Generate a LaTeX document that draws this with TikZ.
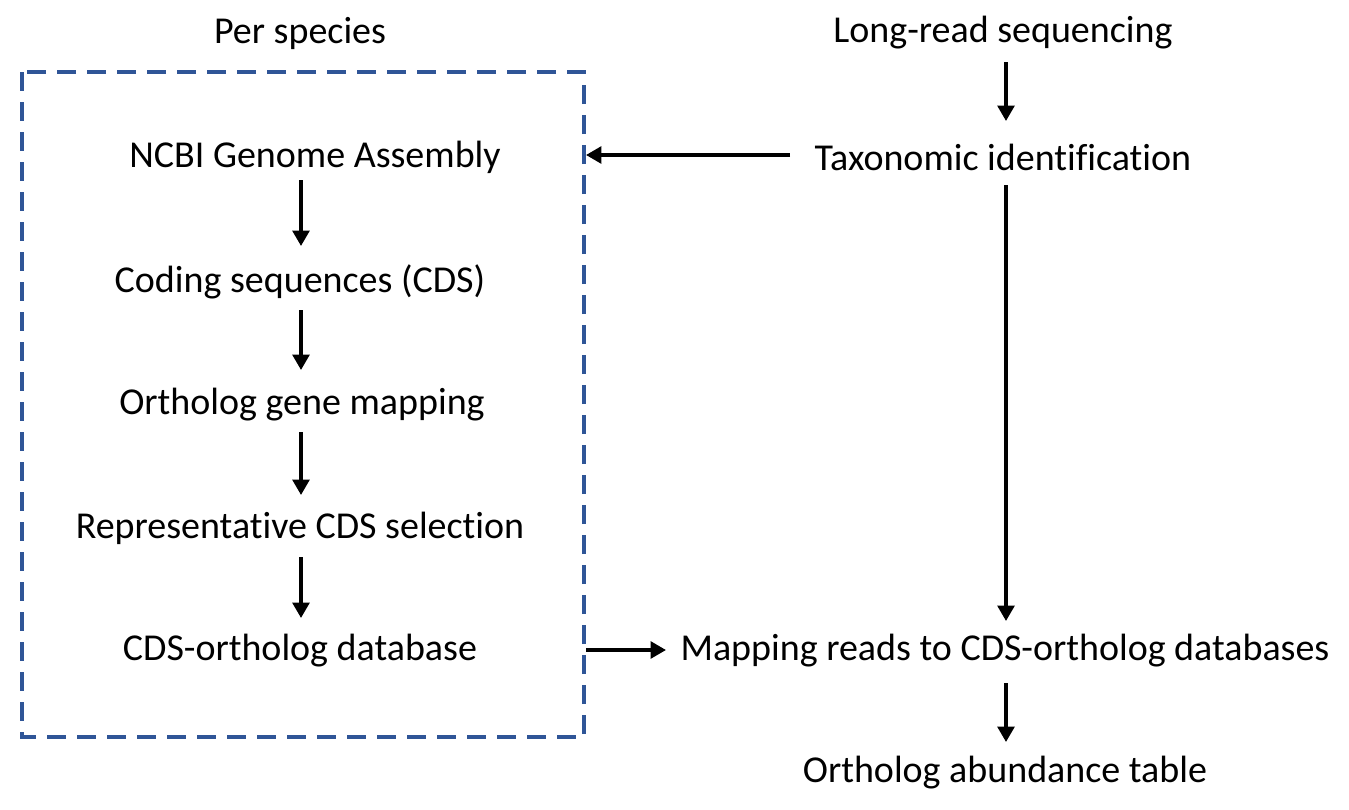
\documentclass[tikz,border=0pt]{standalone}
\usepackage{fontspec}
\setmainfont[Ligatures=NoCommon]{Carlito}
\usetikzlibrary{arrows.meta}
\definecolor{boxblue}{HTML}{2F5597}
\begin{document}
\begin{tikzpicture}[x=0.75pt,y=-0.75pt,
  lbl/.style={font=\fontsize{28.5}{34}\selectfont, inner sep=0pt, anchor=center},
  arr/.style={line width=2.6pt, -{Triangle[width=12.5pt,length=11.5pt]}},
  dbox/.style={draw=boxblue, line width=3pt, dash pattern=on 14pt off 8.5pt}]
\useasboundingbox (0,0) rectangle (1349,810);
\draw[dbox] (22,72) rectangle (584,737);
\node[lbl] (per) at (300,33) {Per species};
\node[lbl] (ncbi) at (315,157) {NCBI Genome Assembly};
\node[lbl] (cds) at (300,282) {Coding sequences (CDS)};
\node[lbl] (orth) at (302,405) {Ortholog gene mapping};
\node[lbl] (rep) at (300,528) {Representative CDS selection};
\node[lbl] (db) at (300,651) {CDS-ortholog database};
\node[lbl] (lr) at (1003,33) {Long-read sequencing};
\node[lbl] (tax) at (1003,157) {Taxonomic identification};
\node[lbl] (map) at (1005,651) {Mapping reads to CDS-ortholog databases};
\node[lbl] (tab) at (1005,773) {Ortholog abundance table};
\coordinate (c1) at (301,0);
\coordinate (c2) at (1006,0);
\coordinate (boxE) at (586,155);
\coordinate (boxE2) at (586,650);
\coordinate (taxW) at (790,155);
\coordinate (mapW) at (666,650);
\draw[arr] (c1 |- 0,180) -- (c1 |- 0,246);
\draw[arr] (c1 |- 0,310) -- (c1 |- 0,370);
\draw[arr] (c1 |- 0,432) -- (c1 |- 0,495);
\draw[arr] (c1 |- 0,557) -- (c1 |- 0,618);
\draw[arr] (c2 |- 0,62) -- (c2 |- 0,121);
\draw[arr] (c2 |- 0,185) -- (c2 |- 0,621);
\draw[arr] (c2 |- 0,683) -- (c2 |- 0,742);
\draw[arr] (taxW) -- (boxE);
\draw[arr] (boxE2) -- (mapW);
\end{tikzpicture}
\end{document}
